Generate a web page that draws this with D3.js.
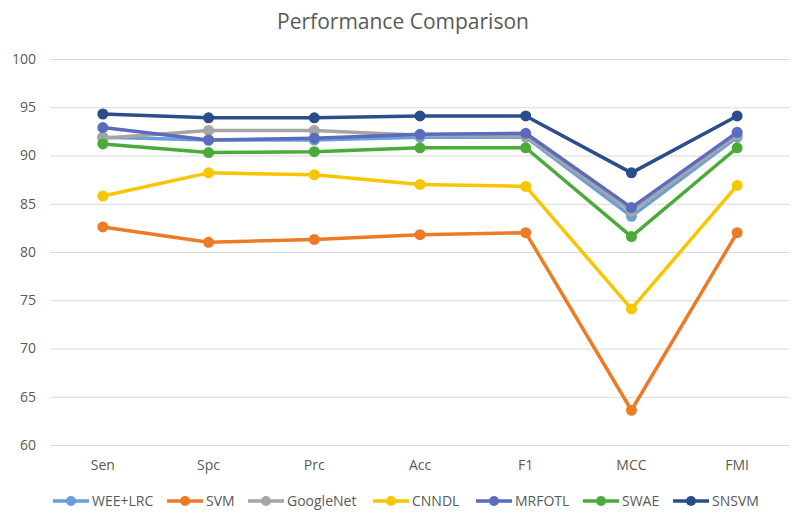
<!DOCTYPE html>
<html>
<head>
<meta charset="utf-8">
<script src="https://cdn.jsdelivr.net/npm/d3@7"></script>
<style>
  body { margin: 0; background: #fff; }
  text { font-family: "Open Sans", "Noto Sans", sans-serif; fill: #595959; }
</style>
</head>
<body>
<svg id="chart" width="800" height="521"></svg>
<script>
let categories = ["Sen", "Spc", "Prc", "Acc", "F1", "MCC", "FMI"];
let yTicks = [60, 65, 70, 75, 80, 85, 90, 95, 100];

let weeLrc    = [91.9, 91.6, 91.6, 91.9, 91.9, 83.7, 91.9];
let svm       = [82.6, 81.0, 81.3, 81.8, 82.0, 63.6, 82.0];
let googleNet = [91.8, 92.6, 92.6, 92.1, 92.0, 84.2, 92.1];
let cnndl     = [85.8, 88.2, 88.0, 87.0, 86.8, 74.1, 86.9];
let mrfotl    = [92.9, 91.6, 91.8, 92.2, 92.3, 84.6, 92.4];
let swae      = [91.2, 90.3, 90.4, 90.8, 90.8, 81.6, 90.8];
let snsvm     = [94.3, 93.9, 93.9, 94.1, 94.1, 88.2, 94.1];

let seriesNames = ["WEE+LRC", "SVM", "GoogleNet", "CNNDL", "MRFOTL", "SWAE", "SNSVM"];
let seriesValues = [weeLrc, svm, googleNet, cnndl, mrfotl, swae, snsvm];

let colorScale = d3.scaleOrdinal()
    .domain(seriesNames)
    .range(["#6a9fdc", "#ec7b27", "#a5a5a5", "#f7c600", "#5b6bbd", "#4aaa3a", "#2c4d8c"]);

let series = seriesNames.map((name, i) => ({ name: name, values: seriesValues[i] }));

let view = d3.select("#chart");
let plotLeft = 50, plotRight = 790;

let xScale = d3.scaleBand()
    .domain(categories)
    .range([plotLeft, plotRight]);

let yScale = d3.scaleLinear()
    .domain([60, 100])
    .range([445, 59]);

// title
view.append("text")
    .attr("x", 403)
    .attr("y", 29)
    .attr("text-anchor", "middle")
    .style("font-size", "21px")
    .text("Performance Comparison");

// gridlines + y labels
let yAxis = d3.axisLeft(yScale)
    .tickValues(yTicks)
    .tickSize(-(plotRight - plotLeft))
    .tickPadding(14);

let yG = view.append("g")
    .attr("transform", `translate(${plotLeft},0)`)
    .call(yAxis);
yG.select(".domain").remove();
yG.selectAll(".tick line").attr("stroke", "#d9d9d9").attr("stroke-width", 1);
yG.selectAll(".tick text")
    .style("font-size", "14px")
    .style("fill", "#595959");

// x labels
let xAxis = d3.axisBottom(xScale).tickSize(0).tickPadding(15);
let xG = view.append("g")
    .attr("transform", "translate(0,445)")
    .call(xAxis);
xG.select(".domain").remove();
xG.selectAll(".tick text")
    .style("font-size", "14px")
    .style("fill", "#595959");

let xPos = (i) => xScale(categories[i]) + xScale.bandwidth() / 2;

let line = d3.line()
    .x((d, i) => xPos(i))
    .y((d) => yScale(d));

let lines = view.append("g").attr("id", "lines")
    .selectAll("g")
    .data(series)
    .join("g");

lines.append("path")
    .attr("d", (s) => line(s.values))
    .attr("fill", "none")
    .attr("stroke", (s) => colorScale(s.name))
    .attr("stroke-width", 3.5)
    .attr("stroke-linejoin", "round");

lines.selectAll("circle")
    .data((s) => s.values.map((v) => ({ v: v, name: s.name })))
    .join("circle")
    .attr("cx", (d, i) => xPos(i))
    .attr("cy", (d) => yScale(d.v))
    .attr("r", 5.5)
    .attr("fill", (d) => colorScale(d.name));

// legend
let legendX = [53, 167, 248, 373, 476, 583, 673];
let legend = view.append("g").attr("id", "legend")
    .selectAll("g")
    .data(seriesNames)
    .join("g")
    .attr("transform", (d, i) => `translate(${legendX[i]},501)`);

legend.append("line")
    .attr("x1", 0).attr("x2", 36)
    .attr("stroke", (d) => colorScale(d))
    .attr("stroke-width", 3.5);
legend.append("circle")
    .attr("cx", 18).attr("r", 5)
    .attr("fill", (d) => colorScale(d));
legend.append("text")
    .attr("x", 39)
    .attr("dy", "0.35em")
    .style("font-size", "14px")
    .text((d) => d);
</script>
</body>
</html>
